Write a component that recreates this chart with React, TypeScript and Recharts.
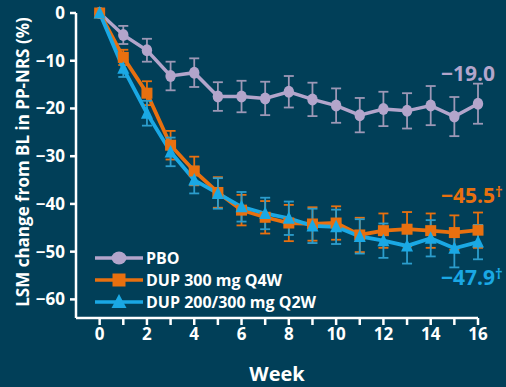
import React from "react";
import {
  LineChart,
  Line,
  XAxis,
  YAxis,
  ErrorBar,
  Legend,
  LabelList,
} from "recharts";

const weeks = [0, 1, 2, 3, 4, 5, 6, 7, 8, 9, 10, 11, 12, 13, 14, 15, 16];
const pbo = [0, -4.6, -7.8, -13.2, -12.5, -17.5, -17.5, -17.9, -16.5, -18.1, -19.4, -21.4, -20.1, -20.5, -19.4, -21.7, -19.0];
const pboErr = [0, 1.9, 2.4, 3.0, 3.0, 3.0, 3.3, 3.5, 3.3, 3.5, 3.6, 3.6, 3.6, 3.7, 4.1, 4.1, 4.2];
const q4w = [0, -9.3, -16.8, -27.7, -33.1, -37.6, -41.3, -42.8, -44.0, -44.2, -44.0, -46.5, -45.6, -45.3, -45.6, -46.0, -45.5];
const q4wErr = [0, 1.6, 2.5, 3.0, 3.0, 3.2, 3.2, 3.4, 3.8, 3.5, 3.5, 3.6, 3.6, 3.6, 3.6, 3.6, 3.7];
const q2w = [0, -11.6, -21.0, -29.1, -35.0, -37.8, -40.6, -42.0, -43.0, -44.6, -44.8, -46.8, -47.7, -48.8, -47.2, -49.3, -48.0];
const q2wErr = [0, 1.8, 2.6, 3.0, 2.8, 3.2, 3.1, 3.3, 3.5, 3.6, 3.6, 3.6, 3.6, 3.7, 3.8, 4.0, 3.6];

const yTicks = [0, -10, -20, -30, -40, -50, -60];
const endLabels = ["\u221219.0", "\u221245.5", "\u221247.9"];

const BG = "#013f58";
const FONT = "'Open Sans', sans-serif";
const C_PBO = "#b3a5cb";
const C_PBO_ERR = "#9d98b6";
const C_Q4W = "#e8700f";
const C_Q2W = "#1aa8e4";

const data = weeks.map((w, i) => ({
  week: w,
  pbo: pbo[i],
  pboErr: pboErr[i],
  q4w: q4w[i],
  q4wErr: q4wErr[i],
  q2w: q2w[i],
  q2wErr: q2wErr[i],
}));

const minus = (v: number) => String(v).replace("-", "\u2212");

function CircleDot(props: any) {
  const { cx, cy } = props;
  if (cx == null || cy == null) return null;
  return <ellipse cx={cx} cy={cy} rx={5.2} ry={6} fill={C_PBO} />;
}

function SquareDot(props: any) {
  const { cx, cy } = props;
  if (cx == null || cy == null) return null;
  return <rect x={cx - 5.5} y={cy - 5.5} width={11} height={11} fill={C_Q4W} />;
}

function TriangleDot(props: any) {
  const { cx, cy } = props;
  if (cx == null || cy == null) return null;
  return (
    <polygon
      points={`${cx},${cy - 7} ${cx - 6},${cy + 5.5} ${cx + 6},${cy + 5.5}`}
      fill={C_Q2W}
    />
  );
}

function endLabel(text: string, color: string, dy: number, dagger: boolean) {
  return (props: any) => {
    const { x, y, index } = props;
    if (index !== weeks.length - 1) return null;
    return (
      <text
        x={x - 37}
        y={y + dy}
        fill={color}
        fontSize={21}
        fontWeight={700}
        fontFamily={FONT}
        dominantBaseline="central"
      >
        {text}
        {dagger && (
          <tspan fontSize={15} dy={-4}>
            {"\u2020"}
          </tspan>
        )}
      </text>
    );
  };
}

const legendItems = [
  { name: "PBO", color: C_PBO, shape: "circle" },
  { name: "DUP 300 mg Q4W", color: C_Q4W, shape: "square" },
  { name: "DUP 200/300 mg Q2W", color: C_Q2W, shape: "triangle" },
];

function renderLegend() {
  return (
    <div style={{ fontFamily: FONT }}>
      {legendItems.map((it) => (
        <div
          key={it.name}
          style={{ display: "flex", alignItems: "center", height: 22 }}
        >
          <svg width={50} height={16} style={{ marginRight: 2 }}>
            <line x1={1} y1={8} x2={49} y2={8} stroke={it.color} strokeWidth={3.5} />
            {it.shape === "circle" && <ellipse cx={25} cy={8} rx={7.5} ry={6.5} fill={it.color} />}
            {it.shape === "square" && <rect x={18.5} y={1.5} width={13} height={13} fill={it.color} />}
            {it.shape === "triangle" && <polygon points="25,0 17.5,14 32.5,14" fill={it.color} />}
          </svg>
          <span style={{ color: "#ffffff", fontSize: 16, fontWeight: 700 }}>{it.name}</span>
        </div>
      ))}
    </div>
  );
}

export default function App() {
  return (
    <div
      style={{
        position: "absolute",
        left: 0,
        top: 0,
        width: 506,
        height: 387,
        background: BG,
      }}
    >
      <LineChart
        width={506}
        height={387}
        data={data}
        margin={{ top: 13, right: 28, bottom: 0, left: 0 }}
      >
        <XAxis
          dataKey="week"
          type="number"
          domain={[-0.67, 16]}
          ticks={weeks}
          interval={0}
          allowDecimals={false}
          tickFormatter={(v: number) => (v % 2 === 0 ? String(v) : "")}
          stroke="#ffffff"
          strokeWidth={2.5}
          tickSize={7}
          tickMargin={3}
          height={69}
          tick={{ fill: "#ffffff", fontSize: 17, fontWeight: 700, fontFamily: FONT }}
          label={{
            value: "Week",
            position: "insideBottom",
            offset: 6,
            fill: "#ffffff",
            fontSize: 20,
            fontWeight: 700,
            fontFamily: FONT,
          }}
        />
        <YAxis
          type="number"
          domain={[-63.9, 0]}
          ticks={yTicks}
          interval={0}
          width={76}
          tickFormatter={minus}
          stroke="#ffffff"
          strokeWidth={2.5}
          tickSize={6}
          tickMargin={5}
          tick={{ fill: "#ffffff", fontSize: 17, fontWeight: 700, fontFamily: FONT }}
          label={{
            content: () => (
              <text
                x={22}
                y={162}
                transform="rotate(-90 22 162)"
                textAnchor="middle"
                dominantBaseline="central"
                fill="#ffffff"
                fontSize={17}
                fontWeight={700}
                fontFamily={FONT}
              >
                LSM change from BL in PP-NRS (%)
              </text>
            ),
          }}
        />
        <Legend
          content={renderLegend}
          layout="horizontal"
          align="center"
          verticalAlign="middle"
          wrapperStyle={{ position: "absolute", left: 94, top: 247, width: 260 }}
        />
        <Line
          dataKey="pbo"
          stroke={C_PBO}
          strokeWidth={3.5}
          dot={<CircleDot />}
          activeDot={false}
          isAnimationActive={false}
        >
          <ErrorBar dataKey="pboErr" width={5} stroke={C_PBO_ERR} strokeWidth={1.8} />
          <LabelList dataKey="pbo" content={endLabel(endLabels[0], C_PBO, -31, false)} />
        </Line>
        <Line
          dataKey="q4w"
          stroke={C_Q4W}
          strokeWidth={3.8}
          dot={<SquareDot />}
          activeDot={false}
          isAnimationActive={false}
        >
          <ErrorBar dataKey="q4wErr" width={5} stroke={C_Q4W} strokeWidth={1.8} />
          <LabelList dataKey="q4w" content={endLabel(endLabels[1], C_Q4W, -35, true)} />
        </Line>
        <Line
          dataKey="q2w"
          stroke={C_Q2W}
          strokeWidth={3.8}
          dot={<TriangleDot />}
          activeDot={false}
          isAnimationActive={false}
        >
          <ErrorBar dataKey="q2wErr" width={5} stroke="#2c9dcc" strokeWidth={1.8} />
          <LabelList dataKey="q2w" content={endLabel(endLabels[2], C_Q2W, 35, true)} />
        </Line>
      </LineChart>
    </div>
  );
}
